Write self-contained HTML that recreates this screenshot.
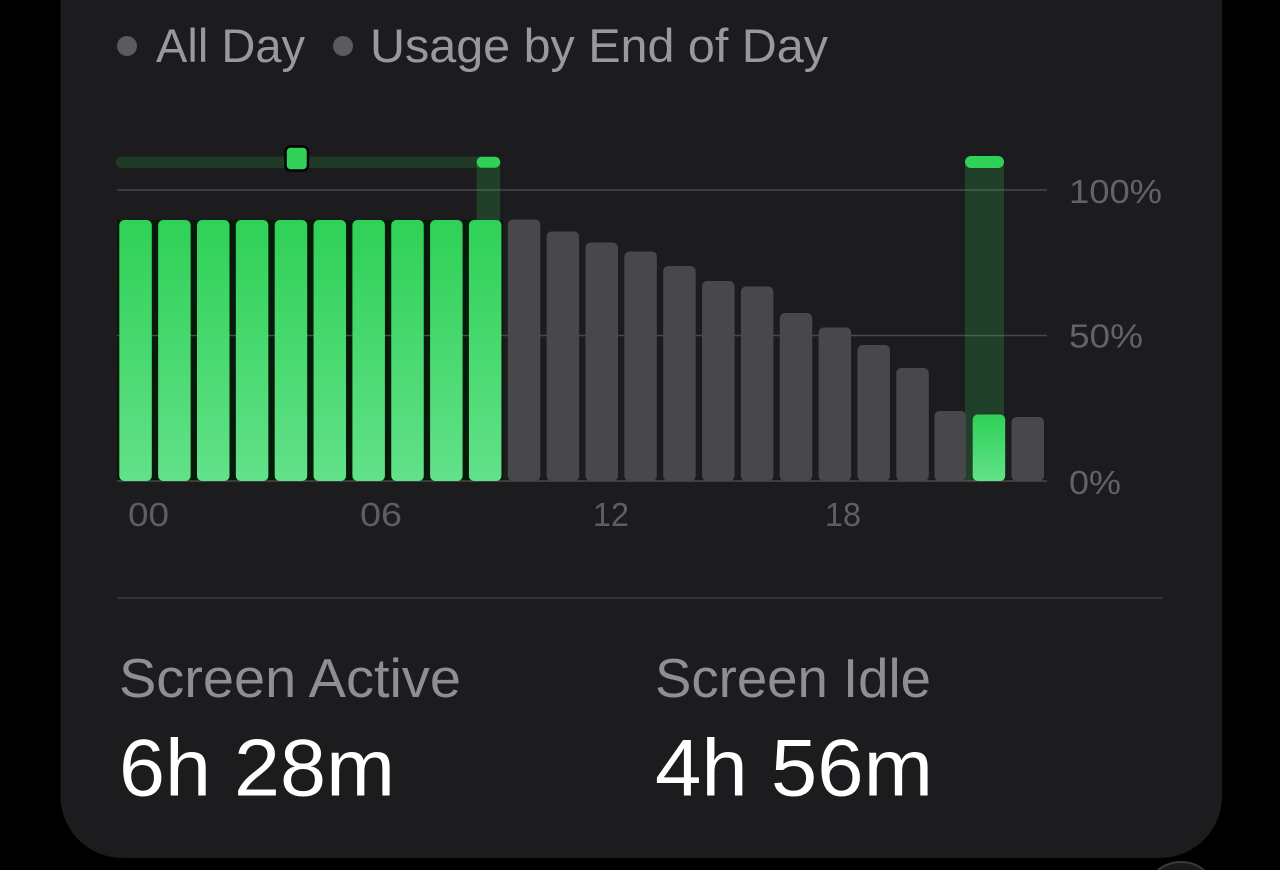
<!DOCTYPE html>
<html>
<head>
<meta charset="utf-8">
<style>
  html, body { margin:0; padding:0; background:#000; }
  body { width:1280px; height:870px; overflow:hidden; }
  svg { display:block; }
  text { font-family: "Liberation Sans", "DejaVu Sans", sans-serif; }
</style>
</head>
<body>
<svg width="1280" height="870" viewBox="0 0 1280 870" xmlns="http://www.w3.org/2000/svg">
  <defs>
    <linearGradient id="g" x1="0" y1="0" x2="0" y2="1">
      <stop offset="0" stop-color="#2fd157"/>
      <stop offset="1" stop-color="#62e189"/>
    </linearGradient>
  </defs>
  <rect x="0" y="0" width="1280" height="870" fill="#000"/>
  <!-- card -->
  <rect x="60.5" y="-100" width="1161.5" height="958" rx="62" ry="62" fill="#1c1c1e"/>
  <!-- bottom-right partial circle -->
  <circle cx="1181" cy="898" r="36" fill="#1a1a1c" stroke="#3a3a3c" stroke-width="2"/>

  <!-- legend -->
  <circle cx="127" cy="46" r="10" fill="#5b5b5f"/>
  <text x="156" y="62" font-size="47" fill="#98989e" textLength="149" lengthAdjust="spacingAndGlyphs">All Day</text>
  <circle cx="343" cy="46" r="10" fill="#5b5b5f"/>
  <text x="370" y="62" font-size="47" fill="#98989e" textLength="458" lengthAdjust="spacingAndGlyphs">Usage by End of Day</text>

  <!-- dark green bg behind selected green bars -->
  <rect x="117" y="220" width="386" height="261" fill="#07190b"/>

  <!-- gridlines -->
  <line x1="117" y1="190" x2="1047" y2="190" stroke="#48484b" stroke-width="1.5"/>
  <line x1="117" y1="335.5" x2="1047" y2="335.5" stroke="#48484b" stroke-width="1.5"/>
  <line x1="117" y1="481" x2="1047" y2="481" stroke="#48484b" stroke-width="1.5"/>

  <!-- selection track -->
  <rect x="116" y="156.5" width="370" height="11.5" rx="5.5" fill="#30d158" fill-opacity="0.17"/>
  <!-- column above bar 9 -->
  <rect x="476.7" y="162" width="23.5" height="60" fill="#30d158" fill-opacity="0.2"/>
  <!-- column at bar 22 -->
  <rect x="965" y="162" width="39" height="319" fill="#30d158" fill-opacity="0.2"/>

  <!-- bars -->
  <g>
    <rect x="119.3" y="220" width="32.5" height="261" rx="5" fill="url(#g)"/>
    <rect x="158.15" y="220" width="32.5" height="261" rx="5" fill="url(#g)"/>
    <rect x="197.0" y="220" width="32.5" height="261" rx="5" fill="url(#g)"/>
    <rect x="235.85" y="220" width="32.5" height="261" rx="5" fill="url(#g)"/>
    <rect x="274.7" y="220" width="32.5" height="261" rx="5" fill="url(#g)"/>
    <rect x="313.55" y="220" width="32.5" height="261" rx="5" fill="url(#g)"/>
    <rect x="352.4" y="220" width="32.5" height="261" rx="5" fill="url(#g)"/>
    <rect x="391.25" y="220" width="32.5" height="261" rx="5" fill="url(#g)"/>
    <rect x="430.1" y="220" width="32.5" height="261" rx="5" fill="url(#g)"/>
    <rect x="468.95" y="220" width="32.5" height="261" rx="5" fill="url(#g)"/>

    <rect x="507.8" y="219.5" width="32.5" height="261.5" rx="5" fill="#48484a"/>
    <rect x="546.65" y="231.5" width="32.5" height="249.5" rx="5" fill="#48484a"/>
    <rect x="585.5" y="242.5" width="32.5" height="238.5" rx="5" fill="#48484a"/>
    <rect x="624.35" y="251.5" width="32.5" height="229.5" rx="5" fill="#48484a"/>
    <rect x="663.2" y="266" width="32.5" height="215" rx="5" fill="#48484a"/>
    <rect x="702.05" y="281" width="32.5" height="200" rx="5" fill="#48484a"/>
    <rect x="740.9" y="286.5" width="32.5" height="194.5" rx="5" fill="#48484a"/>
    <rect x="779.75" y="313" width="32.5" height="168" rx="5" fill="#48484a"/>
    <rect x="818.6" y="327.5" width="32.5" height="153.5" rx="5" fill="#48484a"/>
    <rect x="857.45" y="345" width="32.5" height="136" rx="5" fill="#48484a"/>
    <rect x="896.3" y="368" width="32.5" height="113" rx="5" fill="#48484a"/>
    <rect x="934.5" y="411" width="31.5" height="70" rx="5" fill="#48484a"/>
    <rect x="972.7" y="414.5" width="32.5" height="66.5" rx="5" fill="url(#g)"/>
    <rect x="1011.5" y="417" width="32.5" height="64" rx="5" fill="#48484a"/>
  </g>

  <!-- pills and knob -->
  <rect x="476.7" y="156.7" width="23.5" height="11" rx="5.5" fill="#30d158"/>
  <rect x="965" y="156" width="39" height="12" rx="6" fill="#30d158"/>
  <rect x="285.5" y="146.5" width="22.5" height="24" rx="5" fill="#30d158" stroke="#000" stroke-width="2.5"/>

  <!-- y labels -->
  <text x="1069" y="203" font-size="33" fill="#636367" textLength="93" lengthAdjust="spacingAndGlyphs">100%</text>
  <text x="1069" y="347.5" font-size="33" fill="#636367" textLength="74" lengthAdjust="spacingAndGlyphs">50%</text>
  <text x="1069" y="494" font-size="33" fill="#636367" textLength="52" lengthAdjust="spacingAndGlyphs">0%</text>

  <!-- x labels -->
  <text x="128" y="526" font-size="33" fill="#5f5f63" textLength="41" lengthAdjust="spacingAndGlyphs">00</text>
  <text x="360" y="526" font-size="33" fill="#5f5f63" textLength="42" lengthAdjust="spacingAndGlyphs">06</text>
  <text x="593" y="526" font-size="33" fill="#5f5f63" textLength="36" lengthAdjust="spacingAndGlyphs">12</text>
  <text x="825" y="526" font-size="33" fill="#5f5f63" textLength="36" lengthAdjust="spacingAndGlyphs">18</text>

  <!-- separator -->
  <line x1="117" y1="598" x2="1163" y2="598" stroke="#3a3a3c" stroke-width="1.5"/>

  <!-- stats -->
  <text x="119" y="697" font-size="55" fill="#8e8e93" textLength="342" lengthAdjust="spacingAndGlyphs">Screen Active</text>
  <text x="119" y="795.5" font-size="81" fill="#ffffff" textLength="276" lengthAdjust="spacingAndGlyphs">6h 28m</text>
  <text x="655" y="697" font-size="55" fill="#8e8e93" textLength="276" lengthAdjust="spacingAndGlyphs">Screen Idle</text>
  <text x="655" y="795.5" font-size="81" fill="#ffffff" textLength="278" lengthAdjust="spacingAndGlyphs">4h 56m</text>
</svg>
</body>
</html>
